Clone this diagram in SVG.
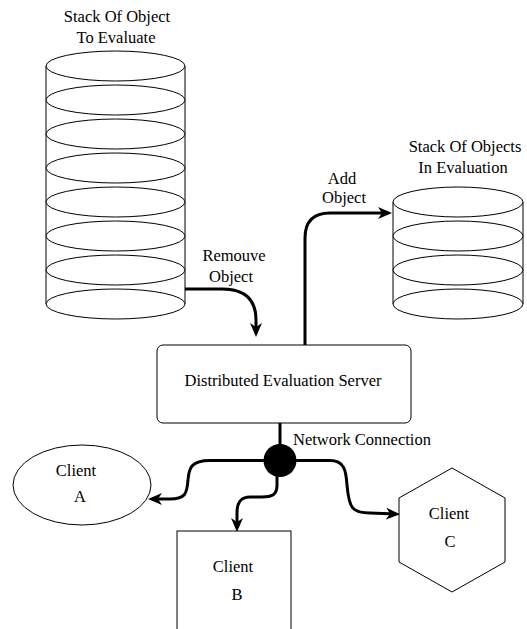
<svg xmlns="http://www.w3.org/2000/svg" width="527" height="629" viewBox="0 0 527 629">
  <style>
    .shape { fill: #ffffff; stroke: #000000; stroke-width: 1; }
    .edge { fill: none; stroke: #000000; stroke-width: 3; stroke-linejoin: round; }
    .label { font-family: "Liberation Serif", "Times New Roman", serif; font-size: 16.5px; fill: #000000; }
    .mid { text-anchor: middle; }
  </style>
  <defs>
    <marker id="arrow" viewBox="0 0 14 12" markerWidth="14" markerHeight="12" refX="10" refY="6" orient="auto" markerUnits="userSpaceOnUse">
      <path d="M0,0 L14,6 L0,12 L4,6 Z" fill="#000000"/>
    </marker>
  </defs>
  <rect width="527" height="629" fill="#ffffff"/>

  <!-- stack of objects waiting to be evaluated -->
  <g id="stack-to-evaluate">
    <line class="shape" x1="46" y1="66" x2="46" y2="304"/>
    <line class="shape" x1="185" y1="66" x2="185" y2="304"/>
    <ellipse class="shape" cx="115.5" cy="66" rx="69.5" ry="15"/>
    <ellipse class="shape" cx="115.5" cy="100" rx="69.5" ry="15"/>
    <ellipse class="shape" cx="115.5" cy="134" rx="69.5" ry="15"/>
    <ellipse class="shape" cx="115.5" cy="168" rx="69.5" ry="15"/>
    <ellipse class="shape" cx="115.5" cy="202" rx="69.5" ry="15"/>
    <ellipse class="shape" cx="115.5" cy="236" rx="69.5" ry="15"/>
    <ellipse class="shape" cx="115.5" cy="270" rx="69.5" ry="15"/>
    <ellipse class="shape" cx="115.5" cy="304" rx="69.5" ry="15"/>
    <text class="label mid" x="117" y="22">Stack Of Object</text>
    <text class="label mid" x="116" y="43">To Evaluate</text>
  </g>

  <!-- stack of objects currently in evaluation -->
  <g id="stack-in-evaluation">
    <line class="shape" x1="393" y1="202" x2="393" y2="304"/>
    <line class="shape" x1="523" y1="202" x2="523" y2="304"/>
    <ellipse class="shape" cx="458" cy="202" rx="65" ry="15"/>
    <ellipse class="shape" cx="458" cy="236" rx="65" ry="15"/>
    <ellipse class="shape" cx="458" cy="270" rx="65" ry="15"/>
    <ellipse class="shape" cx="458" cy="304" rx="65" ry="15"/>
    <text class="label mid" x="465" y="152">Stack Of Objects</text>
    <text class="label mid" x="463" y="173">In Evaluation</text>
  </g>

  <!-- central server -->
  <g id="server">
    <rect class="shape" x="157" y="345" width="254" height="78" rx="6" ry="6"/>
    <text class="label mid" x="283" y="386">Distributed Evaluation Server</text>
  </g>

  <!-- clients -->
  <g id="client-a">
    <ellipse class="shape" cx="82" cy="485" rx="69" ry="40"/>
    <text class="label mid" x="76" y="476">Client</text>
    <text class="label mid" x="80" y="502">A</text>
  </g>
  <g id="client-b">
    <rect class="shape" x="177" y="531" width="114" height="110"/>
    <text class="label mid" x="233" y="572">Client</text>
    <text class="label mid" x="237" y="600">B</text>
  </g>
  <g id="client-c">
    <polygon class="shape" points="452,468 505,498 505,562 452,592 399,562 399,498"/>
    <text class="label mid" x="449" y="519">Client</text>
    <text class="label mid" x="450" y="547">C</text>
  </g>

  <!-- connectors -->
  <g id="connectors">
    <path class="edge" d="M185,289 H222 Q256,289 256,320 V333" marker-end="url(#arrow)"/>
    <path class="edge" d="M305,345 V238 Q305,213 330,213 H388" marker-end="url(#arrow)"/>
    <line class="edge" x1="280" y1="423" x2="280" y2="445"/>
    <path class="edge" d="M264,460.5 H210 C191,460.5 189,468 188,480 C187,494 185,499 170,499 H152" marker-end="url(#arrow)"/>
    <path class="edge" d="M277,476 V485 C277,495 272,497 262,497 H250 C240,497 237,503 237,513 V528" marker-end="url(#arrow)"/>
    <path class="edge" d="M296,460.5 H330 C344,460.5 346,470 347,485 C349,508 352,513 370,513 L396,514" marker-end="url(#arrow)"/>
  </g>

  <!-- network junction -->
  <g id="network-connection">
    <circle cx="280" cy="460.5" r="16.5" fill="#000000"/>
    <text class="label" x="293" y="445">Network Connection</text>
  </g>

  <!-- edge labels -->
  <g id="edge-labels">
    <text class="label mid" x="234" y="261">Remouve</text>
    <text class="label mid" x="231" y="282">Object</text>
    <text class="label mid" x="342" y="184">Add</text>
    <text class="label mid" x="344" y="203">Object</text>
  </g>
</svg>
